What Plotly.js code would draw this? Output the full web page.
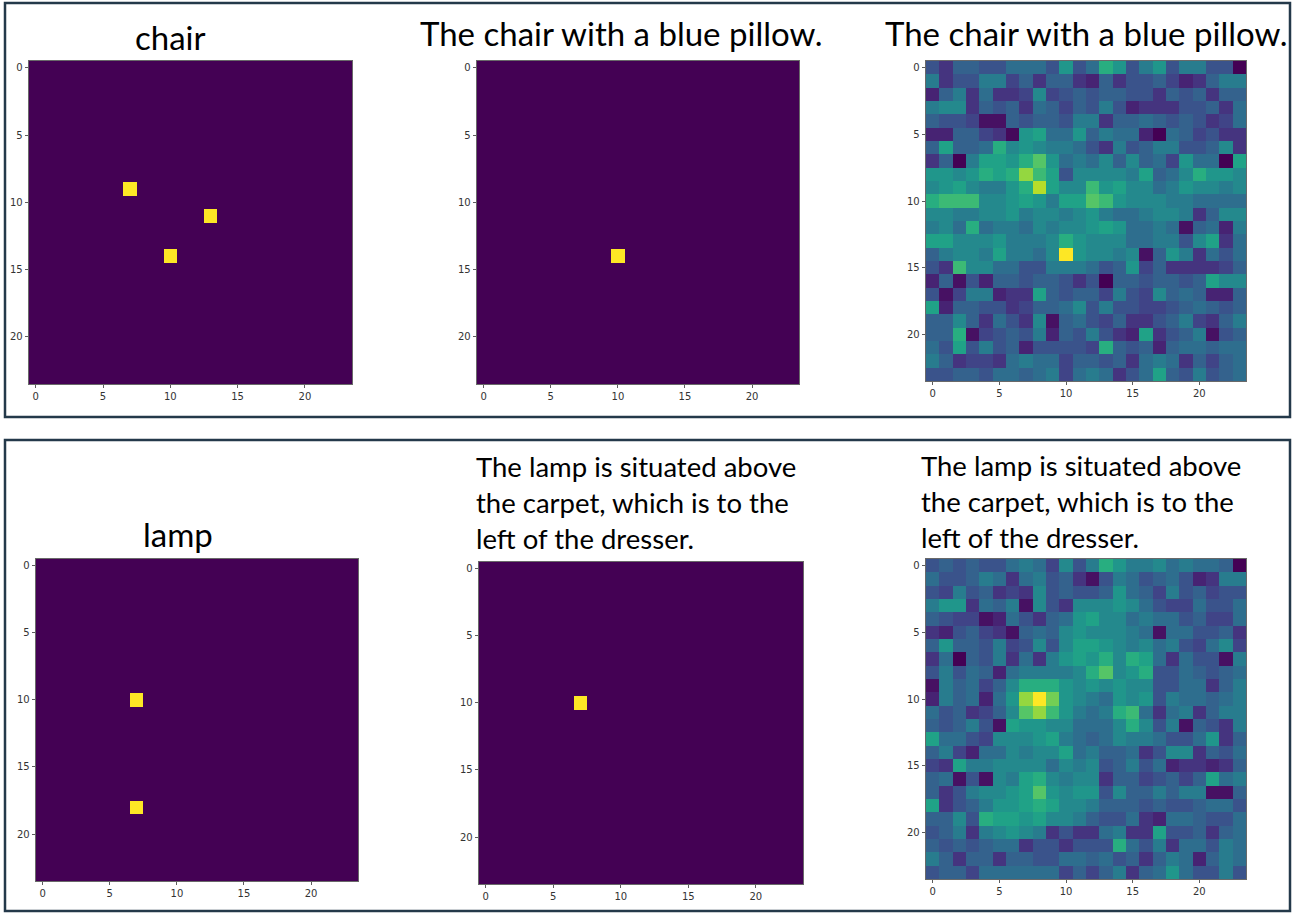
<!DOCTYPE html>
<html>
<head>
<meta charset="utf-8">
<script src="https://cdn.plot.ly/plotly-3.0.1.min.js"></script>
<style>html,body{margin:0;padding:0;background:#fff;}#chart{width:1296px;height:914px;}</style>
</head>
<body>
<div id="chart"></div>
<script>
// ---------------- DATA ----------------
const gridSize = 24;
const tickValues = [0, 5, 10, 15, 20];
const tickLabels = ["0", "5", "10", "15", "20"];

const titleChair = "chair";
const titleChairQuery = "The chair with a blue pillow.";
const titleLamp = "lamp";
const titleLampQuery = "The lamp is situated above<br>the carpet, which is to the<br>left of the dresser.";

// hot cells [row, col] of the binary masks
const chairMaskCells = [[9, 7], [11, 13], [14, 10]];
const chairQueryMaskCells = [[14, 10]];
const lampMaskCells = [[10, 7], [18, 7]];
const lampQueryMaskCells = [[10, 7]];

// predicted score maps (rows top->bottom, values 0..1)
const chairScores = [
[0.3,0.2,0.35,0.35,0.3,0.3,0.4,0.4,0.4,0.3,0.55,0.3, 0.4,0.65,0.55,0.3,0.45,0.55,0.3,0.45,0.45,0.3,0.3,0.05],
[0.45,0.2,0.3,0.3,0.45,0.45,0.25,0.35,0.2,0.35,0.35,0.2, 0.15,0.35,0.2,0.3,0.3,0.35,0.25,0.15,0.2,0.35,0.45,0.45],
[0.15,0.35,0.45,0.2,0.4,0.2,0.2,0.25,0.5,0.25,0.3,0.35, 0.3,0.35,0.35,0.3,0.3,0.2,0.35,0.3,0.35,0.2,0.35,0.35],
[0.45,0.5,0.5,0.2,0.35,0.3,0.35,0.2,0.4,0.35,0.25,0.35, 0.3,0.45,0.3,0.15,0.2,0.2,0.2,0.3,0.3,0.35,0.2,0.4],
[0.35,0.3,0.3,0.25,0.1,0.1,0.35,0.3,0.35,0.35,0.3,0.45, 0.45,0.2,0.35,0.35,0.4,0.35,0.3,0.35,0.3,0.2,0.25,0.4],
[0.15,0.15,0.35,0.35,0.25,0.2,0.08,0.55,0.6,0.4,0.4,0.55, 0.35,0.45,0.4,0.4,0.15,0.05,0.4,0.35,0.25,0.3,0.2,0.2],
[0.35,0.6,0.35,0.35,0.4,0.65,0.5,0.55,0.5,0.45,0.45,0.4, 0.3,0.2,0.45,0.3,0.35,0.45,0.45,0.3,0.3,0.35,0.5,0.2],
[0.2,0.35,0.05,0.45,0.6,0.6,0.55,0.65,0.75,0.55,0.4,0.45, 0.4,0.5,0.35,0.5,0.35,0.4,0.25,0.55,0.4,0.4,0.05,0.6],
[0.55,0.55,0.5,0.55,0.65,0.6,0.65,0.85,0.7,0.6,0.3,0.5, 0.5,0.5,0.5,0.45,0.6,0.35,0.4,0.5,0.65,0.55,0.55,0.5],
[0.5,0.55,0.6,0.5,0.45,0.45,0.55,0.65,0.9,0.6,0.5,0.5, 0.7,0.55,0.6,0.5,0.5,0.4,0.45,0.55,0.5,0.5,0.45,0.5],
[0.65,0.7,0.7,0.7,0.5,0.5,0.55,0.6,0.55,0.45,0.6,0.6, 0.75,0.7,0.55,0.5,0.5,0.5,0.45,0.45,0.4,0.4,0.4,0.4],
[0.5,0.5,0.45,0.45,0.5,0.5,0.55,0.45,0.5,0.5,0.45,0.5, 0.55,0.45,0.4,0.4,0.45,0.5,0.5,0.45,0.2,0.35,0.5,0.5],
[0.45,0.5,0.4,0.65,0.4,0.45,0.45,0.4,0.5,0.45,0.5,0.5, 0.55,0.6,0.55,0.4,0.4,0.45,0.4,0.1,0.35,0.4,0.15,0.45],
[0.6,0.6,0.5,0.5,0.5,0.55,0.45,0.45,0.45,0.5,0.65,0.55, 0.5,0.5,0.5,0.4,0.4,0.45,0.45,0.3,0.5,0.6,0.2,0.4],
[0.35,0.45,0.5,0.5,0.45,0.6,0.45,0.45,0.4,0.5,1.0,0.55, 0.5,0.5,0.45,0.5,0.1,0.35,0.55,0.45,0.2,0.4,0.3,0.4],
[0.3,0.2,0.7,0.5,0.5,0.4,0.4,0.3,0.3,0.45,0.45,0.45, 0.4,0.3,0.35,0.55,0.25,0.35,0.2,0.2,0.2,0.2,0.25,0.35],
[0.15,0.35,0.1,0.3,0.15,0.35,0.35,0.3,0.35,0.35,0.3,0.2, 0.3,0.05,0.35,0.35,0.3,0.35,0.35,0.3,0.35,0.6,0.5,0.5],
[0.3,0.1,0.25,0.45,0.45,0.15,0.2,0.2,0.6,0.35,0.3,0.35, 0.35,0.25,0.45,0.3,0.25,0.5,0.35,0.4,0.35,0.15,0.15,0.35],
[0.6,0.15,0.35,0.35,0.3,0.3,0.2,0.25,0.35,0.35,0.4,0.5, 0.3,0.45,0.3,0.3,0.25,0.25,0.3,0.35,0.4,0.35,0.3,0.35],
[0.35,0.35,0.5,0.35,0.2,0.4,0.3,0.2,0.5,0.1,0.35,0.4, 0.3,0.25,0.35,0.2,0.2,0.3,0.35,0.45,0.25,0.2,0.35,0.45],
[0.35,0.35,0.65,0.1,0.25,0.3,0.35,0.3,0.45,0.15,0.35,0.3, 0.45,0.3,0.2,0.15,0.6,0.2,0.3,0.35,0.45,0.1,0.3,0.35],
[0.4,0.3,0.6,0.3,0.45,0.3,0.35,0.15,0.3,0.3,0.3,0.3, 0.25,0.65,0.35,0.3,0.35,0.15,0.35,0.4,0.4,0.35,0.4,0.4],
[0.45,0.35,0.2,0.25,0.25,0.2,0.4,0.45,0.4,0.4,0.25,0.35, 0.35,0.3,0.35,0.2,0.4,0.45,0.4,0.2,0.35,0.25,0.35,0.4],
[0.3,0.3,0.35,0.35,0.3,0.4,0.4,0.35,0.4,0.45,0.25,0.4, 0.45,0.4,0.2,0.3,0.4,0.6,0.35,0.3,0.45,0.3,0.35,0.4]
];

const lampScores = [
[0.3,0.35,0.3,0.35,0.3,0.3,0.4,0.45,0.4,0.25,0.5,0.3, 0.45,0.65,0.55,0.45,0.45,0.5,0.4,0.45,0.4,0.4,0.35,0.05],
[0.4,0.3,0.3,0.35,0.45,0.4,0.2,0.4,0.45,0.3,0.35,0.2, 0.1,0.3,0.45,0.4,0.3,0.35,0.4,0.3,0.15,0.2,0.45,0.45],
[0.3,0.25,0.45,0.3,0.35,0.2,0.25,0.2,0.5,0.3,0.35,0.3, 0.3,0.35,0.55,0.4,0.35,0.25,0.45,0.3,0.35,0.25,0.3,0.3],
[0.45,0.55,0.55,0.2,0.4,0.35,0.45,0.1,0.5,0.3,0.2,0.5, 0.5,0.5,0.55,0.5,0.4,0.3,0.25,0.25,0.4,0.3,0.3,0.4],
[0.35,0.3,0.25,0.25,0.1,0.15,0.4,0.3,0.2,0.35,0.4,0.55, 0.6,0.5,0.5,0.4,0.45,0.4,0.4,0.3,0.35,0.25,0.25,0.4],
[0.2,0.15,0.3,0.35,0.25,0.2,0.1,0.35,0.4,0.35,0.5,0.55, 0.5,0.5,0.5,0.45,0.4,0.1,0.4,0.4,0.3,0.3,0.35,0.2],
[0.35,0.55,0.35,0.35,0.3,0.45,0.25,0.3,0.5,0.3,0.5,0.6, 0.6,0.55,0.5,0.45,0.5,0.4,0.45,0.3,0.25,0.4,0.5,0.25],
[0.2,0.4,0.05,0.35,0.3,0.45,0.2,0.4,0.2,0.45,0.55,0.6, 0.55,0.65,0.5,0.65,0.6,0.4,0.2,0.4,0.3,0.3,0.1,0.45],
[0.3,0.45,0.3,0.4,0.35,0.15,0.4,0.45,0.45,0.45,0.45,0.5, 0.65,0.75,0.5,0.55,0.65,0.3,0.3,0.4,0.35,0.3,0.35,0.4],
[0.1,0.45,0.35,0.4,0.25,0.35,0.5,0.65,0.65,0.65,0.55,0.5, 0.55,0.5,0.55,0.5,0.5,0.3,0.3,0.4,0.4,0.2,0.35,0.45],
[0.15,0.45,0.35,0.4,0.15,0.4,0.55,0.85,1.0,0.8,0.55,0.5, 0.45,0.4,0.55,0.5,0.55,0.3,0.45,0.4,0.4,0.35,0.4,0.45],
[0.4,0.3,0.35,0.2,0.25,0.35,0.5,0.75,0.85,0.7,0.55,0.45, 0.4,0.45,0.65,0.7,0.4,0.2,0.4,0.45,0.2,0.35,0.45,0.45],
[0.35,0.3,0.35,0.45,0.3,0.1,0.6,0.55,0.55,0.5,0.5,0.4, 0.4,0.4,0.5,0.65,0.5,0.3,0.45,0.1,0.35,0.3,0.2,0.45],
[0.6,0.4,0.4,0.3,0.25,0.5,0.5,0.5,0.55,0.6,0.45,0.4, 0.35,0.4,0.5,0.45,0.45,0.4,0.3,0.3,0.4,0.55,0.2,0.35],
[0.35,0.45,0.25,0.15,0.4,0.4,0.5,0.45,0.5,0.5,0.6,0.4, 0.45,0.35,0.35,0.4,0.2,0.3,0.5,0.5,0.2,0.35,0.3,0.4],
[0.25,0.2,0.6,0.45,0.45,0.5,0.5,0.5,0.5,0.4,0.5,0.45, 0.5,0.3,0.35,0.45,0.3,0.4,0.15,0.2,0.2,0.15,0.2,0.35],
[0.35,0.4,0.1,0.3,0.1,0.5,0.45,0.6,0.65,0.5,0.45,0.5, 0.5,0.2,0.35,0.35,0.25,0.3,0.35,0.25,0.35,0.6,0.4,0.45],
[0.35,0.2,0.3,0.45,0.5,0.5,0.55,0.6,0.75,0.55,0.5,0.55, 0.55,0.3,0.5,0.35,0.35,0.45,0.35,0.45,0.45,0.1,0.1,0.35],
[0.6,0.2,0.3,0.35,0.45,0.55,0.55,0.6,0.65,0.6,0.5,0.5, 0.45,0.35,0.35,0.35,0.3,0.35,0.3,0.3,0.35,0.4,0.4,0.3],
[0.35,0.35,0.5,0.3,0.65,0.6,0.6,0.55,0.6,0.5,0.5,0.45, 0.35,0.3,0.3,0.4,0.2,0.15,0.4,0.4,0.35,0.3,0.3,0.4],
[0.3,0.35,0.45,0.2,0.45,0.5,0.55,0.5,0.45,0.2,0.3,0.2, 0.2,0.4,0.45,0.2,0.2,0.6,0.3,0.3,0.35,0.2,0.35,0.4],
[0.35,0.3,0.35,0.3,0.35,0.4,0.4,0.2,0.3,0.3,0.2,0.3, 0.3,0.3,0.65,0.4,0.3,0.45,0.2,0.4,0.4,0.3,0.45,0.4],
[0.45,0.35,0.2,0.35,0.35,0.2,0.35,0.35,0.3,0.3,0.4,0.4, 0.35,0.4,0.3,0.35,0.2,0.35,0.45,0.4,0.15,0.35,0.45,0.4],
[0.3,0.35,0.35,0.25,0.4,0.4,0.4,0.4,0.4,0.4,0.25,0.35, 0.25,0.35,0.45,0.2,0.35,0.4,0.55,0.4,0.3,0.3,0.45,0.3]
];

// ---------------- BUILD ----------------
function maskFrom(cells) {
  const m = [];
  for (let r = 0; r < gridSize; r++) { m.push(new Array(gridSize).fill(0)); }
  cells.forEach(([r, c]) => { m[r][c] = 1; });
  return m;
}

const W = 1296, H = 914;
// plot areas in pixels: [left, top, right, bottom]
const boxes = [
  [29, 61, 352, 384],
  [477, 61, 799, 384],
  [926, 61, 1246, 381],
  [36, 559, 358, 881],
  [479, 562, 803, 884],
  [926, 559, 1246, 879]
];
const maps = [
  maskFrom(chairMaskCells), maskFrom(chairQueryMaskCells), chairScores,
  maskFrom(lampMaskCells), maskFrom(lampQueryMaskCells), lampScores
];
const zLow = [0, 0, 0.06, 0, 0, 0.06];

const data = [];
const layout = {
  width: W, height: H,
  margin: {l: 0, r: 0, t: 0, b: 0},
  paper_bgcolor: '#ffffff', plot_bgcolor: '#ffffff',
  showlegend: false,
  annotations: [], shapes: []
};

maps.forEach((z, i) => {
  const n = i + 1;
  const xa = 'x' + (n === 1 ? '' : n), ya = 'y' + (n === 1 ? '' : n);
  data.push({
    type: 'heatmap', z: z, xaxis: xa, yaxis: ya,
    colorscale: 'Viridis', zmin: zLow[i], zmax: 1, showscale: false,
    hoverinfo: 'skip'
  });
  const b = boxes[i];
  const axCommon = {
    tickvals: tickValues, ticktext: tickLabels,
    ticks: 'outside', ticklen: 3.5, tickwidth: 0.8, tickcolor: '#333',
    tickfont: {family: 'DejaVu Sans', size: 10, color: '#333'},
    showgrid: false, zeroline: false,
    showline: true, mirror: true, linecolor: '#444', linewidth: 0.8,
    fixedrange: true
  };
  layout['xaxis' + (n === 1 ? '' : n)] = Object.assign({}, axCommon, {
    domain: [b[0] / W, b[2] / W], range: [-0.5, 23.5], anchor: ya
  });
  layout['yaxis' + (n === 1 ? '' : n)] = Object.assign({}, axCommon, {
    domain: [1 - b[3] / H, 1 - b[1] / H], range: [23.5, -0.5], anchor: xa
  });
});

const fontFamily = 'Lato, "Open Sans", sans-serif';
function ann(text, px, py, xanchor, align, size) {
  layout.annotations.push({
    text: text, xref: 'paper', yref: 'paper', x: px / W, y: 1 - py / H,
    xanchor: xanchor, yanchor: 'middle', align: align, showarrow: false,
    font: {family: fontFamily, size: size, color: '#000'}
  });
}
ann(titleChair, 170, 37, 'center', 'center', 33);
ann(titleChairQuery, 621, 33, 'center', 'center', 33);
ann(titleChairQuery, 1086, 33, 'center', 'center', 33);
ann(titleLamp, 178, 534, 'center', 'center', 33);
ann(titleLampQuery, 474, 502, 'left', 'left', 27.5);
ann(titleLampQuery, 919, 501, 'left', 'left', 27.5);

// framed boxes
[[5, 3, 1290, 417], [5, 440, 1290, 911]].forEach(r => {
  layout.shapes.push({
    type: 'rect', xref: 'paper', yref: 'paper',
    x0: r[0] / W, x1: r[2] / W, y0: 1 - r[3] / H, y1: 1 - r[1] / H,
    line: {color: '#24394a', width: 2.5}, fillcolor: 'rgba(0,0,0,0)'
  });
});

Plotly.newPlot('chart', data, layout, {displayModeBar: false, staticPlot: true});
</script>
</body>
</html>
